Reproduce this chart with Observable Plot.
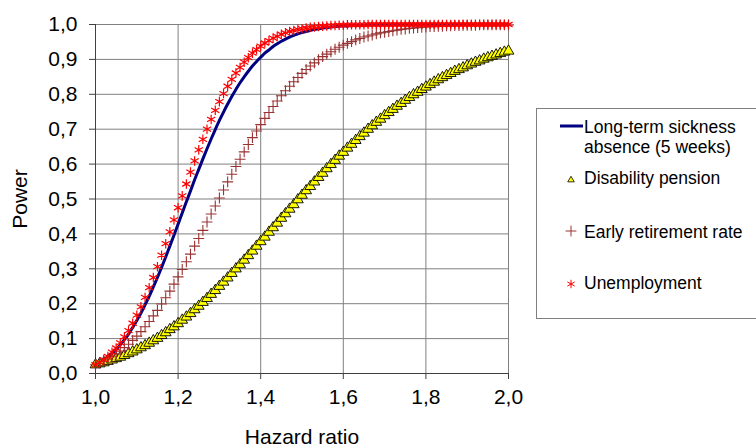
<!DOCTYPE html>
<html>
<head>
<meta charset="utf-8">
<script src="https://cdn.jsdelivr.net/npm/d3@7"></script>
<script src="https://cdn.jsdelivr.net/npm/@observablehq/plot@0.6"></script>
<style>
  body { margin: 0; background: #fff; font-family: "Liberation Sans", Arial, sans-serif; }
  #wrap { position: relative; width: 756px; height: 448px; overflow: hidden; background: #fff; }
  #legend { position: absolute; left: 536px; top: 108px; width: 240px; height: 209px; border: 1px solid #808080; background: #fff; }
  #legend svg { display: block; }
</style>
</head>
<body>
<div id="wrap"><div id="chart"></div><div id="legend"></div></div>
<script>
const hazardRatio = [
  1.00,1.01,1.02,1.03,1.04,1.05,1.06,1.07,1.08,1.09,
  1.10,1.11,1.12,1.13,1.14,1.15,1.16,1.17,1.18,1.19,
  1.20,1.21,1.22,1.23,1.24,1.25,1.26,1.27,1.28,1.29,
  1.30,1.31,1.32,1.33,1.34,1.35,1.36,1.37,1.38,1.39,
  1.40,1.41,1.42,1.43,1.44,1.45,1.46,1.47,1.48,1.49,
  1.50,1.51,1.52,1.53,1.54,1.55,1.56,1.57,1.58,1.59,
  1.60,1.61,1.62,1.63,1.64,1.65,1.66,1.67,1.68,1.69,
  1.70,1.71,1.72,1.73,1.74,1.75,1.76,1.77,1.78,1.79,
  1.80,1.81,1.82,1.83,1.84,1.85,1.86,1.87,1.88,1.89,
  1.90,1.91,1.92,1.93,1.94,1.95,1.96,1.97,1.98,1.99,
  2.00
];
const sicknessAbsence = [
  0.025,0.031,0.039,0.048,0.058,0.069,0.082,0.097,0.113,0.132,
  0.152,0.173,0.197,0.221,0.248,0.275,0.304,0.334,0.365,0.396,
  0.428,0.460,0.492,0.523,0.555,0.585,0.615,0.644,0.672,0.699,
  0.725,0.749,0.772,0.794,0.814,0.833,0.850,0.866,0.881,0.894,
  0.906,0.918,0.927,0.937,0.945,0.952,0.958,0.964,0.969,0.973,
  0.977,0.980,0.983,0.986,0.988,0.990,0.991,0.993,0.994,0.995,
  0.996,0.996,0.997,0.997,0.998,0.998,0.999,0.999,0.999,0.999,
  0.999,1,1,1,1,1,1,1,1,1,
  1,1,1,1,1,1,1,1,1,1,
  1,1,1,1,1,1,1,1,1,1,
  1
];
const disabilityPension = [
  0.025,0.028,0.031,0.035,0.039,0.043,0.047,0.052,0.057,0.062,
  0.068,0.074,0.080,0.087,0.094,0.101,0.109,0.117,0.126,0.134,
  0.143,0.153,0.162,0.172,0.183,0.193,0.204,0.215,0.227,0.238,
  0.250,0.262,0.274,0.287,0.300,0.312,0.325,0.338,0.351,0.365,
  0.378,0.391,0.405,0.418,0.431,0.445,0.458,0.471,0.484,0.498,
  0.511,0.524,0.536,0.549,0.562,0.574,0.587,0.599,0.611,0.623,
  0.634,0.646,0.657,0.668,0.679,0.689,0.700,0.710,0.720,0.729,
  0.739,0.748,0.757,0.766,0.774,0.783,0.791,0.799,0.806,0.814,
  0.821,0.828,0.835,0.842,0.848,0.854,0.860,0.866,0.871,0.876,
  0.882,0.887,0.892,0.896,0.901,0.905,0.909,0.913,0.917,0.921,
  0.924
];
const earlyRetirement = [
  0.025,0.030,0.035,0.041,0.048,0.056,0.064,0.074,0.084,0.095,
  0.107,0.120,0.134,0.149,0.165,0.181,0.199,0.217,0.236,0.256,
  0.277,0.298,0.320,0.342,0.365,0.387,0.410,0.434,0.457,0.480,
  0.503,0.526,0.549,0.571,0.593,0.614,0.635,0.656,0.676,0.695,
  0.713,0.731,0.748,0.765,0.781,0.796,0.810,0.823,0.836,0.848,
  0.860,0.871,0.881,0.890,0.899,0.908,0.915,0.922,0.929,0.935,
  0.941,0.946,0.951,0.956,0.960,0.964,0.967,0.970,0.973,0.976,
  0.978,0.980,0.982,0.984,0.986,0.987,0.989,0.990,0.991,0.992,
  0.993,0.994,0.994,0.995,0.995,0.996,0.996,0.997,0.997,0.998,
  0.998,0.998,0.998,0.999,0.999,0.999,0.999,0.999,0.999,0.999,
  0.999
];
const unemployment = [
  0.025,0.032,0.040,0.049,0.061,0.073,0.088,0.105,0.123,0.144,
  0.167,0.191,0.218,0.246,0.275,0.306,0.339,0.372,0.406,0.440,
  0.475,0.509,0.543,0.577,0.609,0.641,0.671,0.700,0.728,0.754,
  0.779,0.802,0.823,0.843,0.861,0.877,0.892,0.905,0.918,0.928,
  0.938,0.947,0.954,0.961,0.966,0.972,0.976,0.980,0.983,0.986,
  0.988,0.990,0.992,0.993,0.994,0.995,0.996,0.997,0.997,0.998,
  0.998,0.999,0.999,0.999,0.999,0.999,1,1,1,1,
  1,1,1,1,1,1,1,1,1,1,
  1,1,1,1,1,1,1,1,1,1,
  1,1,1,1,1,1,1,1,1,1,
  1
];
const xTicks = [1.0, 1.2, 1.4, 1.6, 1.8, 2.0];
const xTickLabels = ["1,0", "1,2", "1,4", "1,6", "1,8", "2,0"];
const yTicks = [0, 0.1, 0.2, 0.3, 0.4, 0.5, 0.6, 0.7, 0.8, 0.9, 1.0];
const yTickLabels = ["0,0", "0,1", "0,2", "0,3", "0,4", "0,5", "0,6", "0,7", "0,8", "0,9", "1,0"];
const seriesNames = ["Long-term sickness absence (5 weeks)", "Disability pension", "Early retirement rate", "Unemployment"];

const rows = (vals) => hazardRatio.map((x, i) => ({x, y: vals[i]}));
const xFmt = d => xTickLabels[xTicks.findIndex(t => Math.abs(t - d) < 1e-9)];
const yFmt = d => yTickLabels[yTicks.findIndex(t => Math.abs(t - d) < 1e-9)];

const chart = Plot.plot({
  width: 756, height: 448,
  marginLeft: 95, marginRight: 248, marginTop: 24, marginBottom: 75,
  style: {fontFamily: "'Liberation Sans', Arial, sans-serif", color: "#000", background: "#fff", overflow: "visible"},
  x: {domain: [1, 2]},
  y: {domain: [0, 1]},
  marks: [
    Plot.gridX(xTicks, {stroke: "#808080", strokeOpacity: 1, strokeWidth: 1}),
    Plot.gridY(yTicks, {stroke: "#808080", strokeOpacity: 1, strokeWidth: 1}),
    Plot.ruleY([0], {stroke: "#404040"}),
    Plot.ruleX([1], {stroke: "#404040"}),
    Plot.axisX(xTicks, {tickFormat: xFmt, tickSize: 6, tickPadding: 10, fontSize: 21, stroke: "#404040",
      label: "Hazard ratio", labelAnchor: "center", labelArrow: "none", labelOffset: 70}),
    Plot.axisY(yTicks, {tickFormat: yFmt, tickSize: 6, tickPadding: 12, fontSize: 21, stroke: "#404040",
      label: "Power", labelAnchor: "center", labelArrow: "none", labelOffset: 83}),
    Plot.line(rows(sicknessAbsence), {x: "x", y: "y", stroke: "#000080", strokeWidth: 3, curve: "monotone-x"}),
    Plot.dot(rows(disabilityPension), {x: "x", y: "y", symbol: "triangle", r: 4, fill: "#ffff00", stroke: "#000", strokeWidth: 0.9}),
    Plot.dot(rows(earlyRetirement), {x: "x", y: "y", symbol: "plus", r: 3.6, stroke: "#993333", strokeWidth: 1.1}),
    Plot.dot(rows(unemployment), {x: "x", y: "y", symbol: "asterisk", r: 4.5, stroke: "#ff0000", strokeWidth: 1.2})
  ]
});
document.getElementById("chart").appendChild(chart);

// legend
const lg = d3.select("#legend").append("svg").attr("width", 240).attr("height", 209)
  .style("font-family", "'Liberation Sans', Arial, sans-serif").style("font-size", "17.5px");
lg.append("line").attr("x1", 23).attr("x2", 46).attr("y1", 17).attr("y2", 17)
  .attr("stroke", "#000080").attr("stroke-width", 3);
lg.append("text").attr("x", 47).attr("y", 24).text("Long-term sickness");
lg.append("text").attr("x", 47).attr("y", 44).text("absence (5 weeks)");
lg.append("path").attr("transform", "translate(34,71)")
  .attr("d", d3.symbol(d3.symbolTriangle2, 30)()).attr("fill", "#ffff00").attr("stroke", "#000").attr("stroke-width", 0.8);
lg.append("text").attr("x", 47).attr("y", 75).text(seriesNames[1]);
lg.append("path").attr("transform", "translate(34,122)")
  .attr("d", d3.symbol(d3.symbolPlus, 40)()).attr("fill", "none").attr("stroke", "#993333").attr("stroke-width", 1);
lg.append("text").attr("x", 47).attr("y", 129).text(seriesNames[2]);
lg.append("path").attr("transform", "translate(34,175)")
  .attr("d", d3.symbol(d3.symbolAsterisk, 50)()).attr("fill", "none").attr("stroke", "#ff0000").attr("stroke-width", 1);
lg.append("text").attr("x", 47).attr("y", 180).text(seriesNames[3]);
</script>
</body>
</html>
